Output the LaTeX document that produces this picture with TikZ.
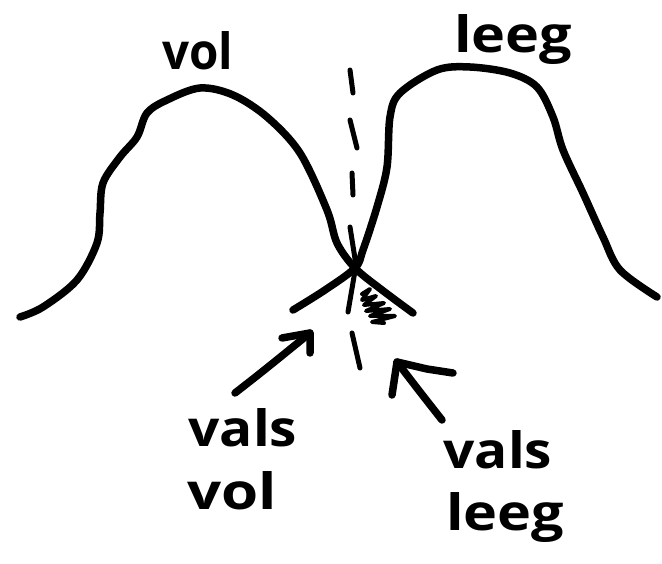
\documentclass[tikz,border=0pt]{standalone}
\usepackage{fontspec}
\setmainfont{Open Sans}
\begin{document}
\begin{tikzpicture}[x=1pt,y=-1pt,
  pen/.style={line width=7.5pt,line cap=round,line join=round},
  thinpen/.style={line width=4pt,line cap=round,line join=round},
  hand/.style={inner sep=0pt,font=\bfseries\fontsize{50}{60}\selectfont}]
\useasboundingbox (0,0) rectangle (662,564);
% left bell curve (vol)
\draw[pen] plot[smooth,tension=0.55] coordinates {(20,317) (43,307) (77,280) (97,243) (100,213) (103,183) (120,157) (137,137) (147,113) (167,100) (200,88) (233,95) (267,117) (300,153) (327,210) (337,243) (355,268) (382,290) (413,313)};
% right bell curve (leeg)
\draw[pen] plot[smooth,tension=0.55] coordinates {(293,310) (325,290) (355,268) (363,250) (377,207) (387,167) (390,117) (400,93) (437,70) (470,67) (510,73) (537,87) (553,117) (563,150) (583,193) (603,237) (620,270) (657,297)};
% dashed threshold line
\draw[pen,line width=5pt] (350,70) -- (353,93);
\draw[pen,line width=5pt] (350,120) -- (357,148);
\draw[pen,line width=5pt] (352,173) -- (353,195);
\draw[pen,line width=5pt] (350,227) -- (356,265) -- (348,312);
\draw[pen,line width=5pt] (352,333) -- (360,368);
% scribble in overlap
\draw[thinpen] (362,294) -- (370,289) -- (362,300) -- (376,296) -- (364,305) -- (384,303) -- (366,311) -- (390,309) -- (370,316) -- (395,316) -- (372,322) -- (384,323);
% labels
\node[hand,anchor=base] (vol) at (198,70) {\scalebox{0.95}[1]{vol}};
\node[hand,anchor=base] (leeg) at (513,53) {\scalebox{1.15}[1]{leeg}};
\node[hand,anchor=base] (vv1) at (243,446) {\scalebox{1.1}[1]{vals}};
\node[hand,anchor=base] (vv2) at (232,509) {\scalebox{1.2}[1]{vol}};
\node[hand,anchor=base] (vl1) at (498,468) {\scalebox{1.1}[1]{vals}};
\node[hand,anchor=base] (vl2) at (505,530) {\scalebox{1.15}[1]{leeg}};
% arrows
\coordinate (lt) at (310,333);
\coordinate (ls) at (235,393);
\draw[pen] (ls) .. controls (262,372) .. (lt);
\draw[pen] (282,338) -- (lt) -- (310,353);
\coordinate (rt) at (397,362);
\coordinate (rs) at (442,420);
\draw[pen] (rs) .. controls (420,392) .. (rt);
\draw[pen] (392,395) -- (rt) -- (427,369) -- (453,373);
\end{tikzpicture}
\end{document}
